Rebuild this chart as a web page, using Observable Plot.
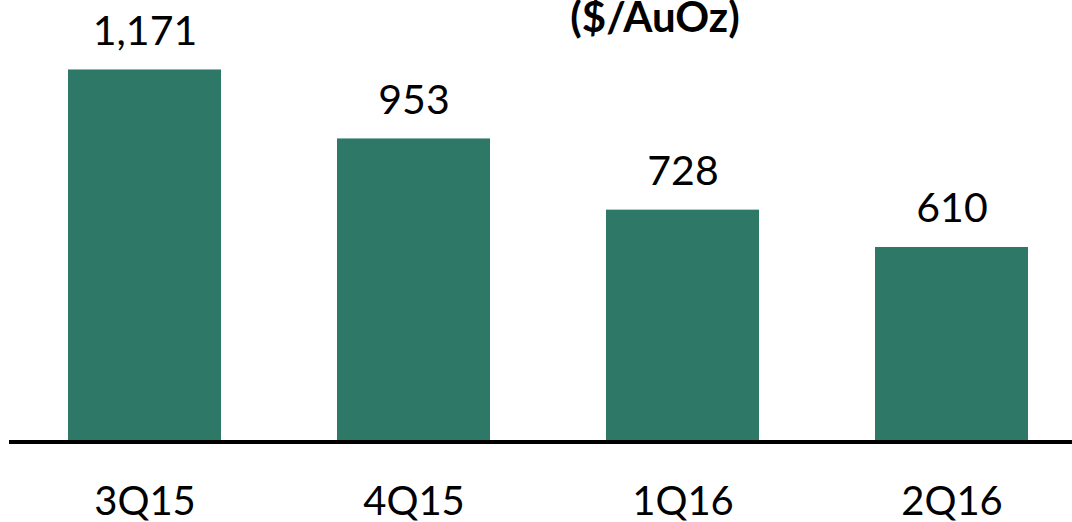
<!DOCTYPE html>
<html>
<head>
<meta charset="utf-8">
<script src="https://cdn.jsdelivr.net/npm/d3@7"></script>
<script src="https://cdn.jsdelivr.net/npm/@observablehq/plot@0.6"></script>
<style>
  html, body { margin: 0; padding: 0; background: #fff; }
  #chart svg { display: block; }
</style>
</head>
<body>
<div id="chart"></div>
<script>
// Quarterly all-in cost per ounce
const quarters = ["3Q15", "4Q15", "1Q16", "2Q16"];
const costs = [1171, 953, 728, 610];
const unitLabel = "($/AuOz)";

const rows = quarters.map((q, i) => ({quarter: q, cost: costs[i]}));
const barColor = "#2e7868";

const chart = Plot.plot({
  width: 1072,
  height: 522,
  marginTop: 0,
  marginLeft: 9,
  marginRight: 0,
  marginBottom: 82,
  style: {fontFamily: "Lato, sans-serif", color: "#000", background: "#fff"},
  x: {domain: quarters, range: [9, 1086], paddingInner: 0.432, paddingOuter: 0.216},
  y: {domain: [0, 1400], range: [440, -3], axis: null},
  marks: [
    Plot.barY(rows, {x: "quarter", y: "cost", fill: barColor}),
    Plot.ruleY([0], {stroke: "#000", strokeWidth: 4, dy: 1.5}),
    Plot.text(rows, {
      x: "quarter", y: "cost",
      text: d => d3.format(",")(d.cost),
      lineAnchor: "bottom", dy: -25,
      fontSize: 41, fill: "#000"
    }),
    Plot.axisX({tickSize: 0, tickPadding: 46, fontSize: 40, label: null, fill: "#000"}),
    Plot.text([unitLabel], {
      frameAnchor: "top", lineAnchor: "top",
      dx: 114, dy: 2,
      fontSize: 42, fontWeight: "bold", fill: "#000"
    })
  ]
});

document.getElementById("chart").appendChild(chart);
</script>
</body>
</html>
